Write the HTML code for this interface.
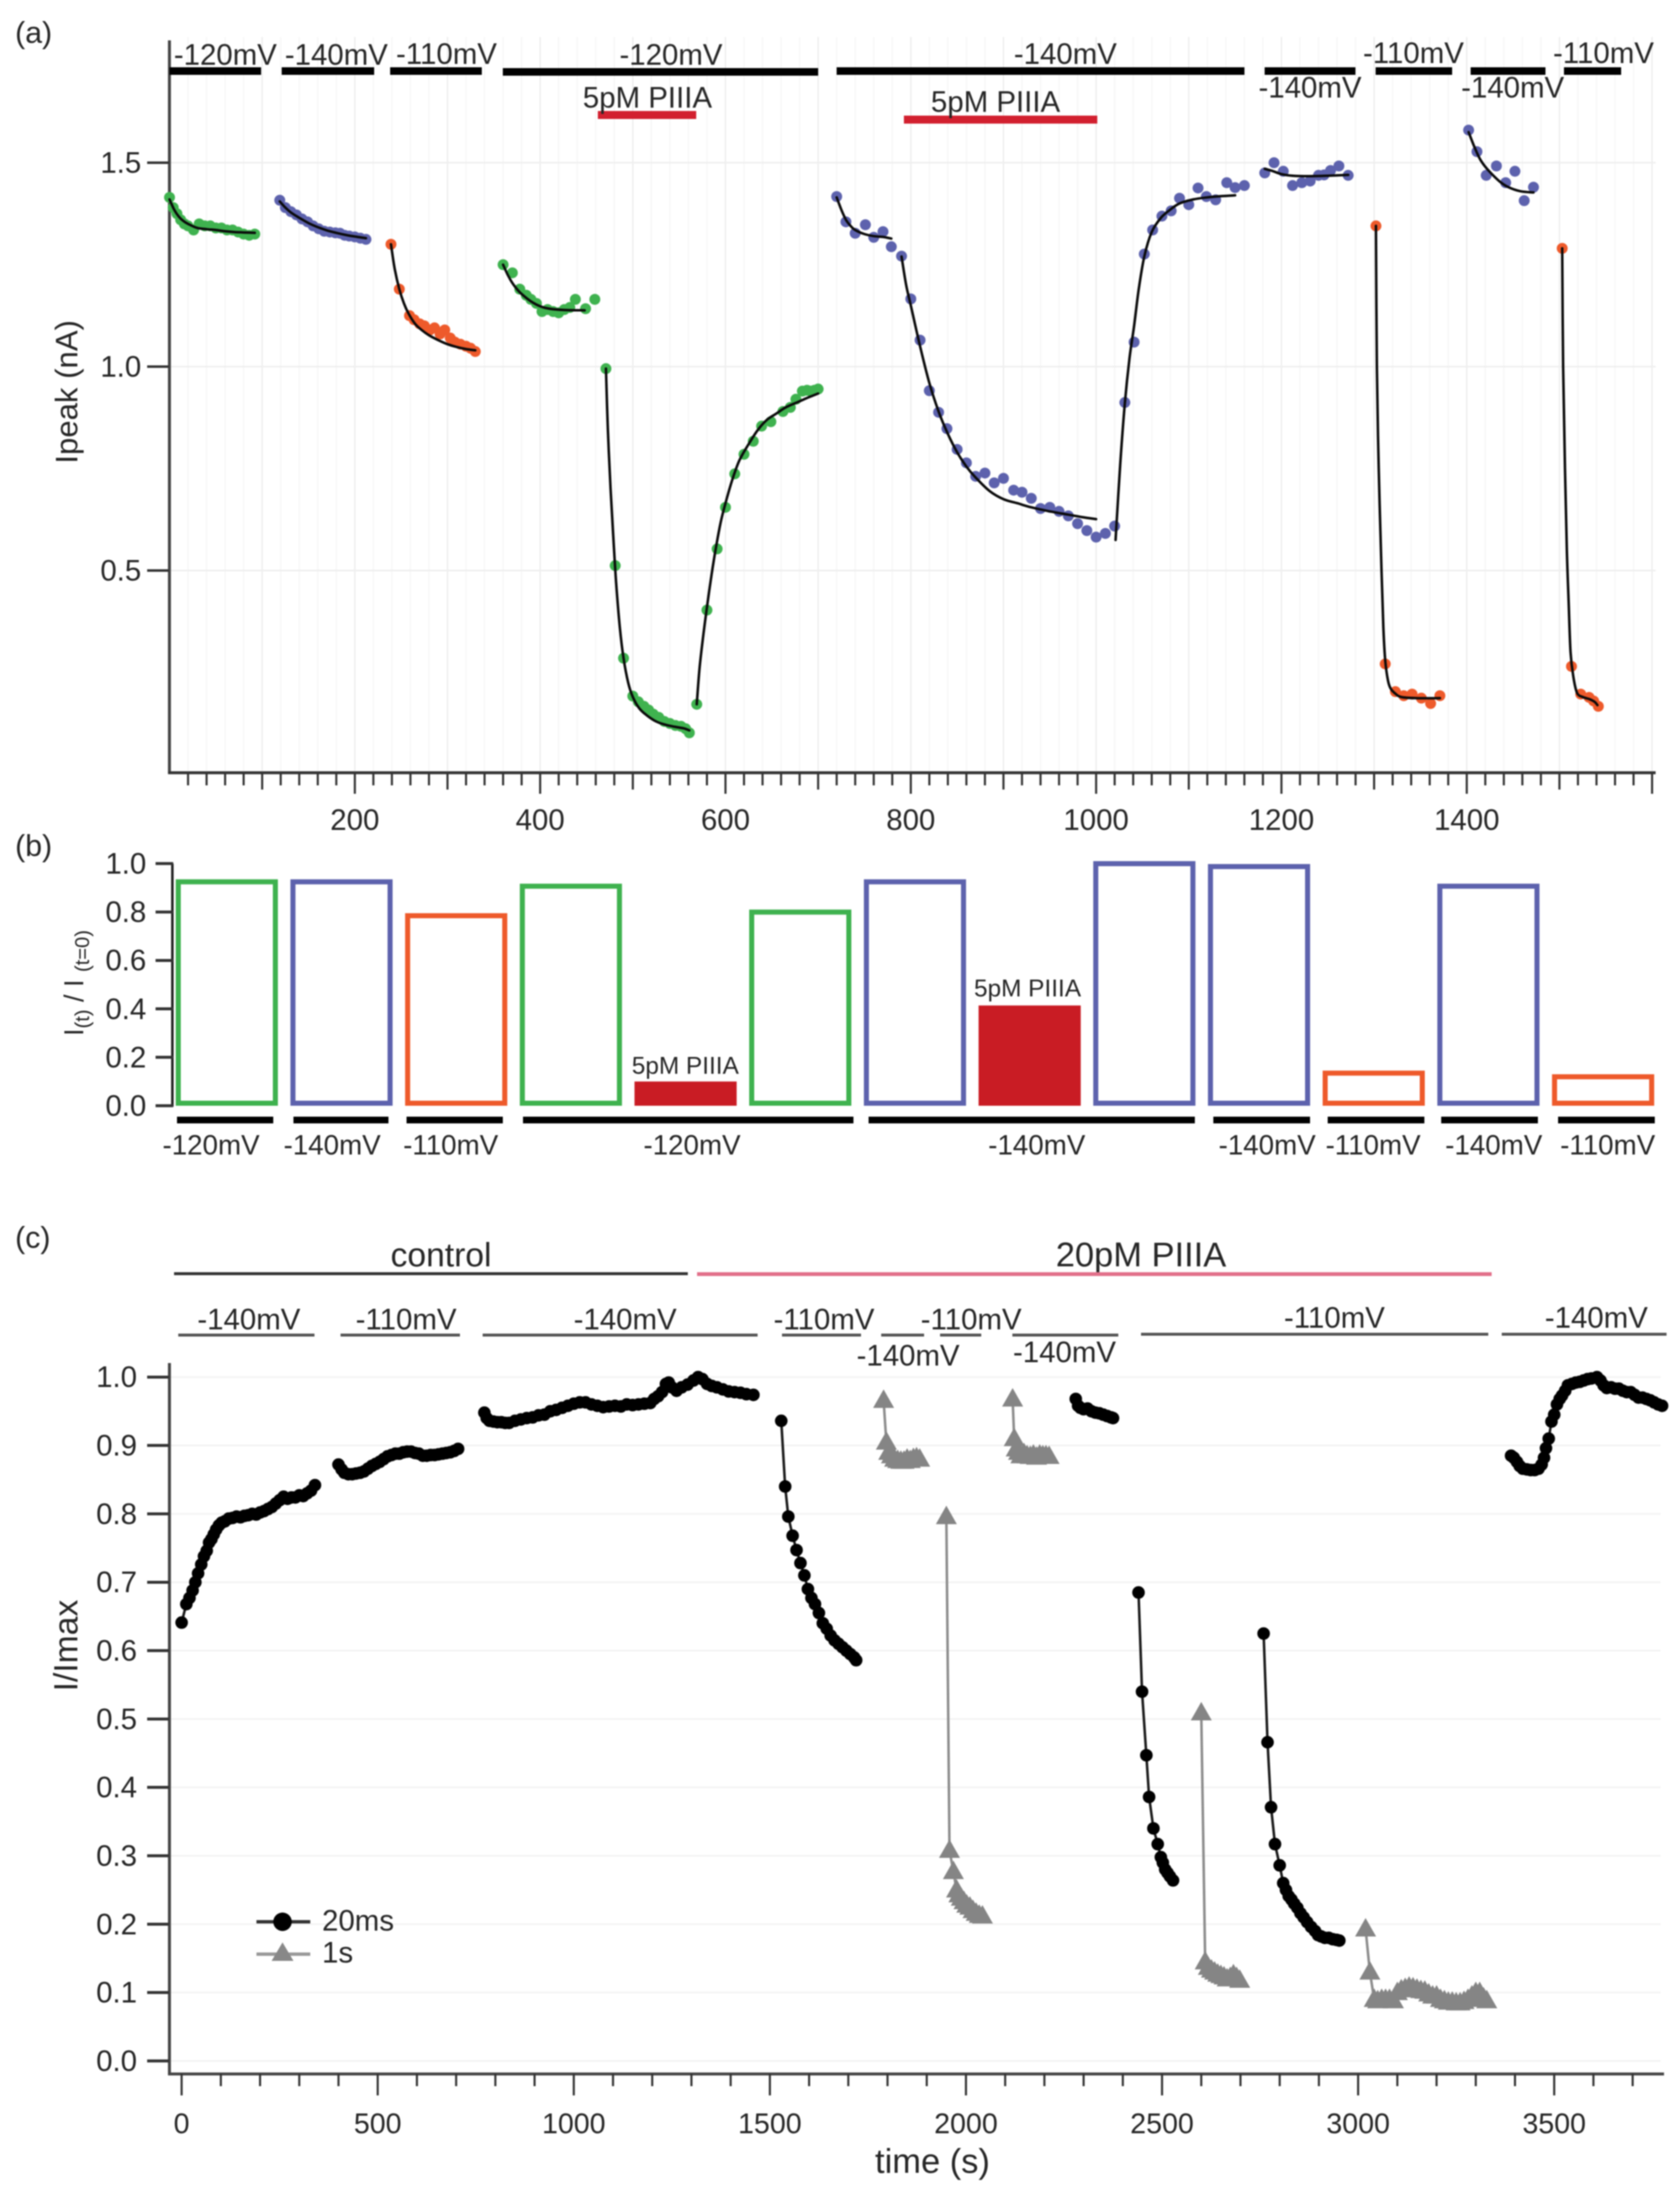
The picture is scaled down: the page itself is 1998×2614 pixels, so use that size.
<!DOCTYPE html>
<html lang="en">
<head>
<meta charset="utf-8">
<title>Ipeak and I/Imax time courses with PIIIA</title>
<style>
html,body{margin:0;padding:0;background:#fff;}
svg{display:block;filter:blur(0.9px);}
text{font-family:"Liberation Sans",sans-serif;fill:#262626;}
</style>
</head>
<body>
<svg id="fig" xmlns="http://www.w3.org/2000/svg" width="1998" height="2614" viewBox="0 0 1998 2614">
<rect x="0" y="0" width="1998" height="2614" fill="#ffffff"/>

<g id="panelA">
  <text x="18" y="51" font-size="36">(a)</text>
  <text transform="translate(92,466) rotate(-90)" text-anchor="middle" font-size="37">Ipeak (nA)</text>
  <g id="aGrid"></g>
  <g id="aAxes"></g>
  <g fill="#000">
    <rect x="201.5" y="80" width="109" height="9"/>
    <rect x="335" y="80" width="110" height="9"/>
    <rect x="464" y="80" width="109" height="9"/>
    <rect x="598" y="81" width="375" height="9"/>
    <rect x="995" y="80" width="485" height="9"/>
    <rect x="1504" y="80" width="108" height="9"/>
    <rect x="1636" y="80" width="91" height="9"/>
    <rect x="1749" y="80" width="89" height="9"/>
    <rect x="1860" y="80" width="68" height="9"/>
    <rect x="711" y="132" width="117" height="9.5" fill="#d2202f"/>
    <rect x="1075" y="137.500" width="230" height="9.5" fill="#d2202f"/>
  </g>
  <g font-size="35" text-anchor="middle">
    <text x="268" y="77" text-anchor="middle" font-size="35">-120mV</text>
    <text x="400" y="77" text-anchor="middle" font-size="35">-140mV</text>
    <text x="531" y="76" text-anchor="middle" font-size="35">-110mV</text>
    <text x="798" y="77" text-anchor="middle" font-size="35">-120mV</text>
    <text x="1267" y="76" text-anchor="middle" font-size="35">-140mV</text>
    <text x="1558" y="116" text-anchor="middle" font-size="35">-140mV</text>
    <text x="1681" y="75" text-anchor="middle" font-size="35">-110mV</text>
    <text x="1799" y="116" text-anchor="middle" font-size="35">-140mV</text>
    <text x="1907" y="75" text-anchor="middle" font-size="35">-110mV</text>
    <text x="770" y="128" text-anchor="middle" font-size="35">5pM PIIIA</text>
    <text x="1184" y="133" text-anchor="middle" font-size="35">5pM PIIIA</text>
  </g>
  <g id="aMarks"></g>
</g>

<g id="panelB">
  <text x="18" y="1018" font-size="36">(b)</text>
  <text transform="translate(99,1169) rotate(-90)" text-anchor="middle" font-size="32">I<tspan font-size="24" dy="7">(t)</tspan><tspan dy="-7"> / I </tspan><tspan font-size="24" dy="7">(t=0)</tspan></text>
  <g id="bAxes"></g>
  <g id="bBars"></g>
  <g fill="#000">
    <rect x="210.500" y="1328" width="114.500" height="8"/>
    <rect x="349" y="1328" width="113" height="8"/>
    <rect x="483.500" y="1328" width="114.500" height="8"/>
    <rect x="622" y="1328" width="393" height="8"/>
    <rect x="1033" y="1328" width="388" height="8"/>
    <rect x="1443" y="1328" width="115" height="8"/>
    <rect x="1579" y="1328" width="115" height="8"/>
    <rect x="1714" y="1328" width="115" height="8"/>
    <rect x="1853" y="1328" width="115" height="8"/>
  </g>
  <text x="251" y="1373" text-anchor="middle" font-size="33">-120mV</text>
  <text x="395" y="1373" text-anchor="middle" font-size="33">-140mV</text>
  <text x="536" y="1373" text-anchor="middle" font-size="33">-110mV</text>
  <text x="823" y="1373" text-anchor="middle" font-size="33">-120mV</text>
  <text x="1233" y="1373" text-anchor="middle" font-size="33">-140mV</text>
  <text x="1507" y="1373" text-anchor="middle" font-size="33">-140mV</text>
  <text x="1633" y="1373" text-anchor="middle" font-size="33">-110mV</text>
  <text x="1776.500" y="1373" text-anchor="middle" font-size="33">-140mV</text>
  <text x="1912" y="1373" text-anchor="middle" font-size="33">-110mV</text>
  <text x="815" y="1277" text-anchor="middle" font-size="29">5pM PIIIA</text>
  <text x="1222" y="1185" text-anchor="middle" font-size="29">5pM PIIIA</text>
</g>

<g id="panelC">
  <text x="18" y="1484" font-size="36">(c)</text>
  <text transform="translate(92,1957) rotate(-90)" text-anchor="middle" font-size="40">I/Imax</text>
  <text x="1109" y="2584" text-anchor="middle" font-size="41">time (s)</text>
  <g id="cGrid"></g>
  <g id="cAxes"></g>
  <text x="524.500" y="1506" text-anchor="middle" font-size="40">control</text>
  <text x="1357" y="1506" text-anchor="middle" font-size="41">20pM PIIIA</text>
  <rect x="207" y="1513" width="611" height="3.500" fill="#333"/>
  <rect x="829" y="1513" width="945" height="4.500" fill="#e2708a"/>
  <g fill="#555">
    <rect x="212" y="1586" width="162" height="3.500"/>
    <rect x="405" y="1586" width="142" height="3.500"/>
    <rect x="574" y="1586" width="327" height="3.500"/>
    <rect x="930" y="1586" width="94" height="3.500"/>
    <rect x="1048" y="1586" width="51" height="3.500"/>
    <rect x="1118" y="1586" width="49" height="3.500"/>
    <rect x="1204" y="1586" width="126" height="3.500"/>
    <rect x="1357" y="1585" width="413" height="3.500"/>
    <rect x="1786" y="1585" width="196" height="3.500"/>
  </g>
  <text x="296" y="1581" text-anchor="middle" font-size="35">-140mV</text>
  <text x="483" y="1581" text-anchor="middle" font-size="35">-110mV</text>
  <text x="743.500" y="1581" text-anchor="middle" font-size="35">-140mV</text>
  <text x="980" y="1581" text-anchor="middle" font-size="35">-110mV</text>
  <text x="1080" y="1624" text-anchor="middle" font-size="35">-140mV</text>
  <text x="1155" y="1581" text-anchor="middle" font-size="35">-110mV</text>
  <text x="1266" y="1620" text-anchor="middle" font-size="35">-140mV</text>
  <text x="1587" y="1579" text-anchor="middle" font-size="35">-110mV</text>
  <text x="1898.500" y="1579" text-anchor="middle" font-size="35">-140mV</text>
  <g id="cMarks"></g>
  <g>
    <g>
      <line x1="305" y1="2285.500" x2="369" y2="2285.500" stroke="#333" stroke-width="4"/>
      <circle cx="336" cy="2285.500" r="11" fill="#000"/>
      <text x="383" y="2296" font-size="35">20ms</text>
    </g>
    <g>
      <line x1="305" y1="2324" x2="369" y2="2324" stroke="#999" stroke-width="4"/>
      <path d="M336 2310 L349 2332 L323 2332 Z" fill="#888"/>
      <text x="383" y="2334" font-size="35">1s</text>
    </g>
  </g>
</g>
</svg>

<script>
/* ---------- Panel (a) data: time (s), peak current (nA), fit ---------- */
const aXTickLabels = [200,400,600,800,1000,1200,1400];
const aYTickLabels = [1.5,1.0,0.5];

const a1T = [0,4,8,12,16,20,26,32,38,44,50,56,62,68,74,80,86,92];
const a1I = [1.415,1.39,1.375,1.36,1.35,1.345,1.335,1.35,1.345,1.345,1.34,1.34,1.335,1.335,1.33,1.325,1.322,1.325];
const a1FitT = [0,5,10,15,20,30,40,50,60,70,80,92];
const a1Fit = [1.41,1.385,1.368,1.357,1.35,1.34,1.337,1.335,1.332,1.33,1.329,1.328];

const a2T = [119,125,131,137,143,149,155,161,167,173,179,184,189,194,200,206,212];
const a2I = [1.408,1.39,1.38,1.372,1.362,1.355,1.345,1.338,1.332,1.33,1.328,1.327,1.322,1.32,1.318,1.315,1.312];
const a2FitT = [119,125,131,140,150,160,170,180,190,200,212];
const a2Fit = [1.405,1.39,1.378,1.365,1.352,1.342,1.334,1.328,1.323,1.319,1.315];

const a3T = [239,248,259,264,270,275,281,286,292,297,303,308,314,320,325,330];
const a3I = [1.30,1.19,1.125,1.115,1.105,1.10,1.09,1.095,1.08,1.09,1.07,1.06,1.055,1.05,1.045,1.037];
const a3FitT = [239,243,248,253,258,265,272,280,290,300,310,320,330];
const a3Fit = [1.30,1.24,1.19,1.155,1.13,1.105,1.09,1.077,1.065,1.055,1.048,1.043,1.04];

const a4T = [360,370,378,385,390,396,402,408,414,420,426,432,438,449,459];
const a4I = [1.25,1.23,1.19,1.175,1.165,1.155,1.135,1.14,1.135,1.132,1.14,1.145,1.165,1.142,1.165];
const a4FitT = [360,365,370,375,380,390,400,410,425,448];
const a4Fit = [1.25,1.225,1.205,1.19,1.178,1.16,1.148,1.142,1.139,1.138];

const a5T = [471,481,490,500,506,512,517,522,528,534,540,546,552,557,561];
const a5I = [0.995,0.512,0.285,0.192,0.178,0.167,0.158,0.148,0.14,0.13,0.125,0.12,0.118,0.112,0.102];
const a5FitT = [471,473,476,479,482,486,490,495,500,507,515,525,535,545,555,561];
const a5Fit = [0.995,0.85,0.70,0.58,0.47,0.36,0.285,0.225,0.19,0.162,0.145,0.13,0.122,0.117,0.113,0.108];

const a6T = [569,580,591,600,610,620,630,639,649,662,670,676,683,688,692,696,700];
const a6I = [0.172,0.403,0.553,0.655,0.737,0.785,0.817,0.854,0.865,0.89,0.90,0.92,0.94,0.942,0.94,0.942,0.945];
const a6FitT = [569,572,576,580,585,590,595,600,607,615,625,635,645,655,665,680,690,700];
const a6Fit = [0.172,0.26,0.34,0.41,0.49,0.56,0.62,0.665,0.72,0.77,0.81,0.845,0.87,0.885,0.90,0.915,0.925,0.934];

const a7T = [720,730,740,751,760,770,779,790,800,810,820,830,839,850,860,870,880,890,900,911,920,930,940,950,960,970,980,990,1000,1010,1020];
const a7I = [1.417,1.355,1.327,1.348,1.317,1.331,1.294,1.271,1.166,1.065,0.941,0.888,0.848,0.797,0.764,0.731,0.739,0.715,0.726,0.697,0.692,0.677,0.652,0.655,0.645,0.634,0.615,0.598,0.582,0.591,0.609];
const a7FitT = [720,725,730,735,740,750,760,770,779];
const a7Fit = [1.415,1.385,1.36,1.345,1.335,1.325,1.32,1.318,1.314];
const a7bFitT = [790,795,800,810,820,830,840,850,860,870,885,900,915,930,950,970,985,1000];
const a7bFit = [1.27,1.2,1.15,1.05,0.96,0.89,0.835,0.79,0.755,0.728,0.695,0.675,0.665,0.655,0.645,0.637,0.631,0.626];

const a8T = [1031,1041,1052,1061,1071,1081,1090,1100,1110,1119,1129,1141,1150,1160];
const a8I = [0.912,1.06,1.276,1.335,1.369,1.382,1.413,1.397,1.438,1.417,1.409,1.451,1.439,1.444];
const a8FitT = [1021,1026,1031,1036,1041,1046,1052,1060,1070,1080,1090,1105,1120,1135,1150];
const a8Fit = [0.575,0.76,0.91,1.02,1.10,1.19,1.27,1.33,1.365,1.385,1.40,1.41,1.415,1.418,1.42];

const a9T = [1182,1192,1202,1212,1222,1231,1240,1246,1253,1262,1272];
const a9I = [1.475,1.50,1.479,1.444,1.451,1.455,1.469,1.47,1.481,1.492,1.469];
const a9FitT = [1182,1190,1200,1212,1230,1250,1272];
const a9Fit = [1.485,1.48,1.472,1.468,1.467,1.468,1.47];

const a10T = [1302,1312,1323,1332,1341,1351,1361,1371];
const a10I = [1.345,0.271,0.203,0.193,0.197,0.187,0.174,0.193];
const a10FitT = [1302,1303,1305,1308,1310,1312,1315,1318,1323,1329,1345,1371];
const a10Fit = [1.345,1.0,0.75,0.50,0.36,0.28,0.23,0.21,0.198,0.19,0.187,0.187];

const a11T = [1402,1411,1421,1432,1442,1452,1462,1472];
const a11I = [1.58,1.527,1.469,1.492,1.451,1.479,1.407,1.44];
const a11FitT = [1402,1408,1414,1420,1428,1436,1445,1458,1472];
const a11Fit = [1.575,1.54,1.51,1.49,1.47,1.453,1.44,1.43,1.427];

const a12T = [1503,1513,1523,1532,1537,1542];
const a12I = [1.29,0.265,0.197,0.189,0.18,0.167];
const a12FitT = [1503,1504,1506,1508,1510,1512,1515,1519,1525,1532,1538,1541];
const a12Fit = [1.29,1.0,0.75,0.55,0.42,0.30,0.24,0.20,0.19,0.185,0.178,0.17];

/* ---------- Panel (b) data: normalised current per stage ---------- */
const bCategories = ['-120mV','-140mV','-110mV','-120mV','-120mV PIIIA','-120mV','-140mV','-140mV PIIIA','-140mV','-140mV','-110mV','-140mV','-110mV'];
const bValues = [0.935,0.935,0.795,0.917,0.10,0.81,0.935,0.414,1.01,0.998,0.145,0.917,0.13];
const bYTickLabels = ['0.0','0.2','0.4','0.6','0.8','1.0'];

/* ---------- Panel (c) data: time (s), I/Imax ---------- */
const cXTickLabels = [0,500,1000,1500,2000,2500,3000,3500];
const cYTickLabels = ['0.0','0.1','0.2','0.3','0.4','0.5','0.6','0.7','0.8','0.9','1.0'];

const c1T = [0,12,20,28,35,42,50,57,64,70,76,82,88,95,102,110,120,130,140,150,160,170,180,190,200,210,220,230,240,250,260,270,280,290,300,310,320,330,340];
const c1V = [0.641,0.668,0.677,0.688,0.70,0.713,0.726,0.738,0.746,0.758,0.763,0.77,0.777,0.783,0.787,0.789,0.793,0.794,0.796,0.795,0.797,0.798,0.80,0.799,0.802,0.804,0.807,0.81,0.815,0.82,0.825,0.822,0.824,0.824,0.827,0.826,0.83,0.834,0.842];
const c2T = [400,408,415,425,435,445,455,465,475,485,495,505,515,525,535,545,555,565,575,585,595,605,615,625,635,645,655,665,675,685,695,705];
const c2V = [0.872,0.865,0.86,0.858,0.858,0.859,0.86,0.862,0.866,0.87,0.873,0.876,0.88,0.884,0.886,0.888,0.888,0.89,0.891,0.891,0.889,0.888,0.885,0.885,0.886,0.886,0.887,0.888,0.889,0.89,0.892,0.895];
const c3T = [772,778,785,795,805,815,825,835,850,865,880,895,910,925,940,955,970,985,1000,1015,1030,1045,1060,1075,1090,1105,1120,1135,1150,1165,1180,1195,1205,1215,1225,1235,1242,1250,1262,1275,1290,1305,1317,1328,1340,1352,1365,1380,1395,1410,1425,1440,1458];
const c3V = [0.948,0.94,0.936,0.935,0.934,0.934,0.933,0.933,0.936,0.938,0.94,0.941,0.944,0.945,0.95,0.952,0.955,0.958,0.961,0.963,0.963,0.96,0.958,0.956,0.957,0.958,0.957,0.96,0.959,0.96,0.961,0.962,0.968,0.972,0.978,0.99,0.992,0.985,0.98,0.985,0.989,0.995,1.0,0.997,0.99,0.987,0.985,0.982,0.979,0.978,0.977,0.975,0.974];
const c4T = [1529,1539,1547,1558,1568,1578,1588,1597,1606,1615,1625,1635,1645,1655,1665,1675,1685,1695,1705,1715,1720];
const c4V = [0.936,0.84,0.796,0.768,0.747,0.728,0.71,0.69,0.677,0.668,0.655,0.64,0.632,0.622,0.615,0.61,0.605,0.60,0.595,0.59,0.586];
const c5T = [1790,1797,1803,1810,1818,1826,1834,1842,1850,1858,1866,1874,1882];
const c5V = [0.966,0.905,0.89,0.885,0.88,0.878,0.877,0.877,0.88,0.878,0.881,0.882,0.88];
const c6T = [1950,1958,1968,1976,1982,1988,1995,2002,2010,2018,2026,2034,2042];
const c6V = [0.796,0.308,0.277,0.25,0.243,0.238,0.233,0.228,0.225,0.22,0.216,0.213,0.212];
const c7T = [2119,2123,2128,2134,2140,2148,2156,2164,2172,2180,2188,2196,2204,2212];
const c7V = [0.968,0.91,0.895,0.89,0.885,0.888,0.885,0.884,0.886,0.883,0.886,0.885,0.885,0.884];
const c8T = [2280,2286,2292,2300,2310,2320,2330,2340,2350,2360,2370,2375];
const c8V = [0.968,0.958,0.955,0.953,0.954,0.95,0.948,0.947,0.945,0.943,0.941,0.94];
const c9T = [2440,2449,2460,2467,2478,2489,2497,2502,2508,2514,2520,2528];
const c9V = [0.685,0.54,0.447,0.386,0.34,0.317,0.298,0.29,0.28,0.275,0.27,0.264];
const c10T = [2600,2610,2618,2626,2634,2642,2650,2658,2666,2674,2682,2690,2698];
const c10V = [0.509,0.145,0.137,0.133,0.13,0.127,0.125,0.123,0.12,0.122,0.126,0.122,0.118];
const c11T = [2759,2769,2778,2788,2800,2809,2816,2823,2830,2837,2845,2853,2861,2870,2880,2890,2898,2906,2915,2925,2935,2945,2952];
const c11V = [0.625,0.466,0.371,0.317,0.286,0.26,0.25,0.241,0.236,0.23,0.224,0.216,0.21,0.203,0.196,0.19,0.184,0.182,0.18,0.18,0.178,0.177,0.176];
const c12T = [3019,3030,3041,3050,3060,3070,3080,3090,3100,3110,3120,3130,3140,3150,3160,3170,3180,3190,3200,3210,3220,3230,3240,3250,3260,3270,3280,3290,3300,3310,3320,3328];
const c12V = [0.193,0.13,0.09,0.088,0.09,0.09,0.09,0.088,0.1,0.104,0.106,0.108,0.107,0.105,0.103,0.102,0.098,0.095,0.095,0.09,0.088,0.086,0.086,0.085,0.085,0.087,0.09,0.095,0.1,0.1,0.092,0.088];
const c13T = [3390,3397,3405,3412,3420,3430,3440,3450,3460,3468,3474,3479,3486,3493,3500,3507,3514,3520,3528,3535,3545,3555,3565,3575,3585,3595,3609,3618,3626,3634,3645,3655,3665,3675,3685,3695,3705,3715,3725,3735,3745,3755,3765,3775];
const c13V = [0.885,0.882,0.876,0.87,0.866,0.865,0.864,0.864,0.866,0.872,0.882,0.896,0.91,0.935,0.945,0.96,0.968,0.973,0.98,0.988,0.99,0.992,0.993,0.995,0.997,0.998,1.0,0.995,0.988,0.984,0.985,0.983,0.983,0.98,0.978,0.978,0.974,0.97,0.97,0.968,0.966,0.963,0.96,0.958];

/* ---------- Axis functions ---------- */
const xA = t => 201.6 + 1.102 * t;
const yA = v => 436 - 485 * (v - 1);
const xB = i => 209 + 136.4 * i;
const yB = v => 1315 - 288 * v;
const xC = t => 216 + 0.4664 * t;
const yC = v => 2451 - 813.3 * v;

const NS = 'http://www.w3.org/2000/svg';
function mk(tag, attrs, parent, txt) {
  const el = document.createElementNS(NS, tag);
  for (const k in attrs) el.setAttribute(k, attrs[k]);
  if (txt !== undefined) el.textContent = txt;
  parent.appendChild(el);
  return el;
}
function smoothPath(px, py) {
  let d = 'M' + px[0].toFixed(2) + ' ' + py[0].toFixed(2);
  for (let i = 0; i < px.length - 1; i++) {
    const p0 = Math.max(i - 1, 0), p3 = Math.min(i + 2, px.length - 1);
    const c1x = px[i] + (px[i + 1] - px[p0]) / 6, c1y = py[i] + (py[i + 1] - py[p0]) / 6;
    const c2x = px[i + 1] - (px[p3] - px[i]) / 6, c2y = py[i + 1] - (py[p3] - py[i]) / 6;
    d += 'C' + c1x.toFixed(2) + ' ' + c1y.toFixed(2) + ' ' + c2x.toFixed(2) + ' ' + c2y.toFixed(2) + ' ' + px[i + 1].toFixed(2) + ' ' + py[i + 1].toFixed(2);
  }
  return d;
}

const GREEN = '#3fb24f', BLUE = '#5d62ad', ORANGE = '#ee5a2b', AXIS = '#444';

/* ---------- Panel (a) axes ---------- */
const aGrid = document.getElementById('aGrid');
const aAxes = document.getElementById('aAxes');
for (let t = 20; t <= 1600; t += 20) {
  const major = t % 200 === 0, mid = t % 100 === 0;
  const g = mk('line', {x1: xA(t), x2: xA(t), y1: 44, y2: 917, stroke: mid ? '#ececec' : '#f6f6f6', 'stroke-width': 1.5}, aGrid);
  
  
  const tk = mk('line', {x1: xA(t), x2: xA(t), y1: 919, y2: 919 + (major ? 25 : mid ? 20 : 15), stroke: '#333', 'stroke-width': 2.5}, aAxes);
  
  
}
const aYLine = mk('line', {x1: 201.5, x2: 201.5, y1: 48, y2: 920.500, stroke: AXIS, 'stroke-width': 3.5}, aAxes);


const aXLine = mk('line', {x1: 200, x2: 1969, y1: 919, y2: 919, stroke: '#333', 'stroke-width': 3.5}, aAxes);


aXTickLabels.forEach(v => {
  const l = mk('text', {x: xA(v), y: 987, 'text-anchor': 'middle', 'font-size': 35}, aAxes, String(v));
  
  
});
aYTickLabels.forEach(v => {
  const g = mk('line', {x1: 203, x2: 1969, y1: yA(v), y2: yA(v), stroke: '#efefef', 'stroke-width': 2}, aGrid);
  
  
  const tk = mk('line', {x1: 175, x2: 201, y1: yA(v), y2: yA(v), stroke: '#333', 'stroke-width': 3}, aAxes);
  
  
  const l = mk('text', {x: 168, y: yA(v) + 12, 'text-anchor': 'end', 'font-size': 35}, aAxes, v.toFixed(1));
  
  
});

/* ---------- Panel (a) series ---------- */
const aMarks = document.getElementById('aMarks');
const aDots = [[a1T,a1I,GREEN],[a2T,a2I,BLUE],[a3T,a3I,ORANGE],[a4T,a4I,GREEN],[a5T,a5I,GREEN],[a6T,a6I,GREEN],[a7T,a7I,BLUE],[a8T,a8I,BLUE],[a9T,a9I,BLUE],[a10T,a10I,ORANGE],[a11T,a11I,BLUE],[a12T,a12I,ORANGE]];
const aFits = [[a1FitT,a1Fit],[a2FitT,a2Fit],[a3FitT,a3Fit],[a4FitT,a4Fit],[a5FitT,a5Fit],[a6FitT,a6Fit],[a7FitT,a7Fit],[a7bFitT,a7bFit],[a8FitT,a8Fit],[a9FitT,a9Fit],[a10FitT,a10Fit],[a11FitT,a11Fit],[a12FitT,a12Fit]];
aDots.forEach(s => {
  s[0].forEach((t, i) => {
    const c = mk('circle', {cx: xA(t), cy: yA(s[1][i]), r: 6.5, fill: s[2]}, aMarks);
    
    
  });
});
aFits.forEach(s => {
  const p = mk('path', {d: smoothPath(s[0].map(xA), s[1].map(yA)), fill: 'none', stroke: '#0a0a0a', 'stroke-width': 3, 'stroke-linecap': 'round'}, aMarks);
  
  
});

/* ---------- Panel (b) ---------- */
const bAxes = document.getElementById('bAxes');
const bBars = document.getElementById('bBars');
const bYLine = mk('line', {x1: 205, x2: 205, y1: 1027, y2: 1316, stroke: '#222', 'stroke-width': 3}, bAxes);


bYTickLabels.forEach(s => {
  const v = parseFloat(s);
  const tk = mk('line', {x1: 185, x2: 206, y1: yB(v), y2: yB(v), stroke: '#333', 'stroke-width': 3.5}, bAxes);
  
  
  const l = mk('text', {x: 174, y: yB(v) + 12, 'text-anchor': 'end', 'font-size': 35}, bAxes, s);
  
  
});
const barW = 121.5, barStroke = 6;
bCategories.forEach((c, i) => {
  const toxin = c.indexOf('PIIIA') >= 0;
  const col = toxin ? '#c91c24' : c.indexOf('-120') === 0 ? GREEN : c.indexOf('-140') === 0 ? BLUE : ORANGE;
  const top = yB(bValues[i]), base = yB(0);
  const attrs = toxin
    ? {x: xB(i), y: top, width: barW, height: base - top, fill: col}
    : {x: xB(i) + barStroke / 2, y: top + barStroke / 2, width: barW - barStroke, height: base - top - barStroke, fill: '#fff', stroke: col, 'stroke-width': barStroke};
  const r = mk('rect', attrs, bBars);
  
  
});

/* ---------- Panel (c) axes ---------- */
const cGrid = document.getElementById('cGrid');
const cAxes = document.getElementById('cAxes');
const cYLine = mk('line', {x1: 201.5, x2: 201.5, y1: 1621, y2: 2468, stroke: AXIS, 'stroke-width': 3.5}, cAxes);


const cXLine = mk('line', {x1: 200, x2: 1979, y1: 2466.500, y2: 2466.500, stroke: AXIS, 'stroke-width': 3.5}, cAxes);


for (let t = 0; t <= 3700; t += 100) {
  const major = t % 500 === 0;
  const tk = mk('line', {x1: xC(t), x2: xC(t), y1: 2466, y2: 2466 + (major ? 26 : 15), stroke: '#333', 'stroke-width': 2.5}, cAxes);
  
  
}
cXTickLabels.forEach(v => {
  const l = mk('text', {x: xC(v), y: 2537, 'text-anchor': 'middle', 'font-size': 34}, cAxes, String(v));
  
  
});
cYTickLabels.forEach(s => {
  const v = parseFloat(s);
  const g = mk('line', {x1: 203, x2: 1975, y1: yC(v), y2: yC(v), stroke: '#f3f3f3', 'stroke-width': 2}, cGrid);
  
  
  const tk = mk('line', {x1: 175, x2: 201, y1: yC(v), y2: yC(v), stroke: '#333', 'stroke-width': 3.5}, cAxes);
  
  
  const l = mk('text', {x: 163, y: yC(v) + 12, 'text-anchor': 'end', 'font-size': 35}, cAxes, s);
  
  
});

/* ---------- Panel (c) series ---------- */
const cMarks = document.getElementById('cMarks');
const cCircles = [[c1T,c1V],[c2T,c2V],[c3T,c3V],[c4T,c4V],[c8T,c8V],[c9T,c9V],[c11T,c11V],[c13T,c13V]];
const cTriangles = [[c5T,c5V],[c6T,c6V],[c7T,c7V],[c10T,c10V],[c12T,c12V]];
cTriangles.forEach(s => {
  const pts = s[0].map((t, i) => xC(t).toFixed(2) + ',' + yC(s[1][i]).toFixed(2)).join(' ');
  const pl = mk('polyline', {points: pts, fill: 'none', stroke: '#8c8c8c', 'stroke-width': 3}, cMarks);
  
  
  s[0].forEach((t, i) => {
    const x = xC(t), y = yC(s[1][i]);
    const d = 'M' + x + ' ' + (y - 13) + 'L' + (x + 12.5) + ' ' + (y + 9) + 'L' + (x - 12.5) + ' ' + (y + 9) + 'Z';
    const m = mk('path', {d: d, fill: '#858585'}, cMarks);
    
    
  });
});
cCircles.forEach(s => {
  const pts = s[0].map((t, i) => xC(t).toFixed(2) + ',' + yC(s[1][i]).toFixed(2)).join(' ');
  const pl = mk('polyline', {points: pts, fill: 'none', stroke: '#1a1a1a', 'stroke-width': 3}, cMarks);
  
  
  s[0].forEach((t, i) => {
    const m = mk('circle', {cx: xC(t), cy: yC(s[1][i]), r: 7.5, fill: '#000'}, cMarks);
    
    
  });
});
</script>
</body>
</html>
